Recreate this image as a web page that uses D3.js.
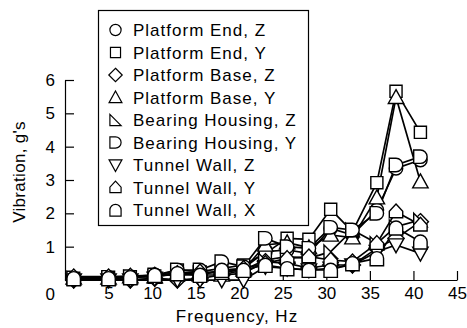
<!DOCTYPE html>
<html>
<head>
<meta charset="utf-8">
<script src="https://cdn.jsdelivr.net/npm/d3@7"></script>
<style>
  html, body { margin: 0; padding: 0; background: #fff; }
  svg { display: block; }
  text { font-family: "Liberation Sans", Arial, Helvetica, sans-serif; fill: #000; }
</style>
</head>
<body>
<svg id="chart" width="467" height="328"></svg>
<script>
// Measurement frequencies (Hz)
const frequency = [1, 5, 7.5, 10.3, 12.9, 15.5, 18, 20.5, 23, 25.5, 28, 30.5, 33, 35.8, 38, 40.8];

// Vibration amplitude (g's) for each sensor location / axis
const platformEndZ    = [0.05, 0.05, 0.08, 0.15, 0.15, 0.15, 0.30, 0.35, 0.85, 0.90, 0.80, 1.55, 1.35, 2.10, 3.35, 3.60];
const platformEndY    = [0.05, 0.08, 0.10, 0.12, 0.30, 0.25, 0.35, 0.45, 0.80, 1.25, 1.22, 2.12, 1.45, 2.92, 5.66, 4.43];
const platformBaseZ   = [0.00, 0.02, 0.00, 0.05, 0.00, 0.05, 0.15, 0.20, 0.55, 0.50, 0.36, 0.45, 0.45, 0.95, 1.25, 1.75];
const platformBaseY   = [0.06, 0.06, 0.10, 0.10, 0.20, 0.15, 0.15, 0.30, 1.05, 1.12, 0.97, 1.35, 1.27, 2.47, 5.48, 2.95];
const bearingHousingZ = [0.05, 0.05, 0.08, 0.10, 0.18, 0.20, 0.25, 0.30, 0.60, 0.70, 0.65, 0.85, 1.50, 1.10, 1.60, 1.80];
const bearingHousingY = [0.06, 0.08, 0.10, 0.15, 0.30, 0.30, 0.55, 0.40, 1.25, 1.00, 0.95, 1.58, 1.50, 2.00, 3.45, 3.70];
const tunnelWallZ     = [0.00, 0.00, 0.00, 0.05, 0.00, 0.00, 0.00, 0.00, 0.40, 0.35, 0.30, 0.35, 0.45, 0.85, 1.05, 0.80];
const tunnelWallY     = [0.10, 0.10, 0.12, 0.15, 0.20, 0.25, 0.20, 0.35, 0.50, 0.65, 0.70, 0.60, 0.55, 1.10, 2.05, 1.65];
const tunnelWallX     = [0.05, 0.05, 0.08, 0.15, 0.20, 0.15, 0.30, 0.30, 0.45, 0.35, 0.30, 0.30, 0.50, 0.65, 1.57, 1.15];

const seriesNames = [
  "Platform End, Z", "Platform End, Y", "Platform Base, Z", "Platform Base, Y",
  "Bearing Housing, Z", "Bearing Housing, Y", "Tunnel Wall, Z", "Tunnel Wall, Y", "Tunnel Wall, X"
];
const seriesValues = [
  platformEndZ, platformEndY, platformBaseZ, platformBaseY,
  bearingHousingZ, bearingHousingY, tunnelWallZ, tunnelWallY, tunnelWallX
];

const xTicks = [5, 10, 15, 20, 25, 30, 35, 40, 45];
const yTicks = [0, 1, 2, 3, 4, 5, 6];

// Custom marker shapes, drawn through d3.symbol
const PI = Math.PI;
const shapes = {
  circle: { draw(c, s) { const r = Math.sqrt(s) / 2; c.moveTo(r, 0); c.arc(0, 0, r, 0, 2 * PI); } },
  square: { draw(c, s) { const r = Math.sqrt(s) / 2 * 0.9; c.rect(-r, -r, 2 * r, 2 * r); } },
  diamond: { draw(c, s) { const r = Math.sqrt(s) / 2 * 1.2;
    c.moveTo(0, -r); c.lineTo(r, 0); c.lineTo(0, r); c.lineTo(-r, 0); c.closePath(); } },
  triUp: { draw(c, s) { const r = Math.sqrt(s) / 2 * 1.15;
    c.moveTo(0, -r); c.lineTo(r, r * 0.8); c.lineTo(-r, r * 0.8); c.closePath(); } },
  rightTri: { draw(c, s) { const r = Math.sqrt(s) / 2;
    c.moveTo(-r, -r); c.lineTo(r, r); c.lineTo(-r, r); c.closePath(); } },
  dShape: { draw(c, s) { const r = Math.sqrt(s) / 2;
    c.moveTo(-r, -r); c.lineTo(0, -r); c.arc(0, 0, r, -PI / 2, PI / 2); c.lineTo(-r, r); c.closePath(); } },
  triDown: { draw(c, s) { const r = Math.sqrt(s) / 2 * 1.15;
    c.moveTo(0, r); c.lineTo(r, -r * 0.8); c.lineTo(-r, -r * 0.8); c.closePath(); } },
  house: { draw(c, s) { const r = Math.sqrt(s) / 2;
    c.moveTo(0, -r * 1.15); c.lineTo(r, -r * 0.05); c.lineTo(r, r * 0.9); c.lineTo(-r, r * 0.9); c.lineTo(-r, -r * 0.05); c.closePath(); } },
  arch: { draw(c, s) { const r = Math.sqrt(s) / 2;
    c.moveTo(-r, r * 1.1); c.lineTo(-r, 0); c.arc(0, 0, r, PI, 2 * PI); c.lineTo(r, r * 1.1); c.closePath(); } }
};
const seriesShapes = [shapes.circle, shapes.square, shapes.diamond, shapes.triUp,
  shapes.rightTri, shapes.dShape, shapes.triDown, shapes.house, shapes.arch];

const svg = d3.select("#chart");

const x = d3.scaleLinear().domain([0, 45]).range([65, 457]);
const y = d3.scaleLinear().domain([0, 6]).range([280, 80]);

// Axes with inward ticks
const xAxis = svg.append("g")
  .attr("transform", `translate(0,${y(0)})`)
  .call(d3.axisBottom(x).tickValues(xTicks).tickFormat(d3.format("d"))
    .tickSize(-9).tickSizeOuter(0).tickPadding(7));
const yAxis = svg.append("g")
  .attr("transform", `translate(${x(0)},0)`)
  .call(d3.axisLeft(y).tickValues(yTicks).tickFormat(d3.format("d"))
    .tickSize(-9).tickSizeOuter(0).tickPadding(10));

[xAxis, yAxis].forEach(g => {
  g.selectAll("path.domain").attr("stroke", "#000").attr("stroke-width", 1.2);
  g.selectAll(".tick line").attr("stroke", "#000").attr("stroke-width", 1.2);
  g.selectAll(".tick text")
    .style("font-family", '"Liberation Sans", Arial, sans-serif')
    .style("font-size", "17px").attr("fill", "#000");
});
// The origin label sits on the same row as the frequency labels
yAxis.selectAll(".tick").filter(d => d === 0).select("text").attr("dy", "1.17em");

// Axis titles
svg.append("text")
  .attr("x", 237).attr("y", 322)
  .attr("text-anchor", "middle")
  .style("font-size", "17px").style("letter-spacing", "1px")
  .text("Frequency, Hz");
svg.append("text")
  .attr("transform", "translate(25,172) rotate(-90)")
  .attr("text-anchor", "middle")
  .style("font-size", "17px").style("letter-spacing", "0.3px")
  .text("Vibration, g's");

// Data lines
const line = d3.line().x((d, i) => x(frequency[i])).y(d => y(d));
const plot = svg.append("g");
seriesValues.forEach(vals => {
  plot.append("path")
    .datum(vals)
    .attr("d", line)
    .attr("fill", "none")
    .attr("stroke", "#000")
    .attr("stroke-width", 1.7)
    .attr("stroke-linejoin", "round");
});

// Markers
const markerSize = 180;
seriesValues.forEach((vals, k) => {
  plot.append("g").selectAll("path")
    .data(vals)
    .join("path")
    .attr("transform", (d, i) => `translate(${x(frequency[i])},${y(d)})`)
    .attr("d", d3.symbol().type(seriesShapes[k]).size(markerSize))
    .attr("fill", "#fff")
    .attr("stroke", "#000")
    .attr("stroke-width", 1.4);
});

// Legend
const legend = svg.append("g");
legend.append("rect")
  .attr("x", 98.5).attr("y", 10.5).attr("width", 210).attr("height", 215)
  .attr("fill", "#fff").attr("stroke", "#000").attr("stroke-width", 1.2);
seriesNames.forEach((name, k) => {
  const cy = 30 + k * 22.5;
  legend.append("path")
    .attr("transform", `translate(115.5,${cy})`)
    .attr("d", d3.symbol().type(seriesShapes[k]).size(125))
    .attr("fill", "#fff").attr("stroke", "#000").attr("stroke-width", 1.2);
  legend.append("text")
    .attr("x", 133).attr("y", cy + 6)
    .style("font-size", "17px").style("letter-spacing", "1px")
    .text(name);
});
</script>
</body>
</html>
